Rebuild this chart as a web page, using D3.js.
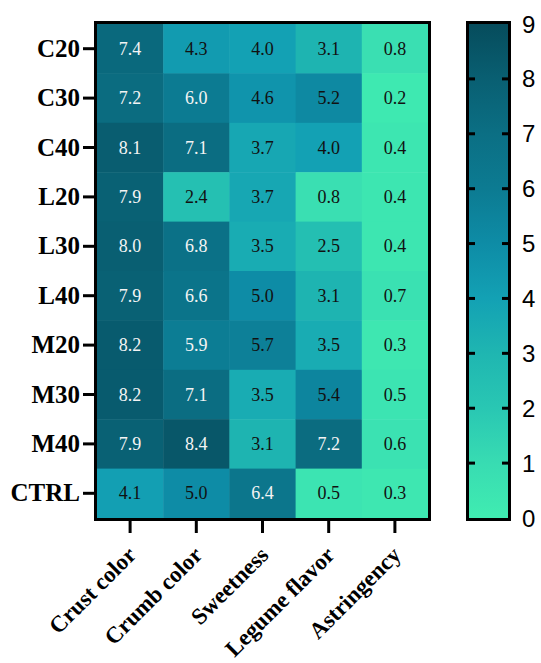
<!DOCTYPE html>
<html>
<head>
<meta charset="utf-8">
<script src="https://cdn.jsdelivr.net/npm/d3@7"></script>
<style>
  html, body { margin: 0; padding: 0; background: #fff; }
  svg { display: block; }
</style>
</head>
<body>
<svg id="chart" width="541" height="663"></svg>
<script>
// Sensory attributes (columns) and samples (rows)
const attributes = ["Crust color", "Crumb color", "Sweetness", "Legume flavor", "Astringency"];
const samples = ["C20", "C30", "C40", "L20", "L30", "L40", "M20", "M30", "M40", "CTRL"];

// Mean scores per attribute, listed in sample order
const crustColor   = [7.4, 7.2, 8.1, 7.9, 8.0, 7.9, 8.2, 8.2, 7.9, 4.1];
const crumbColor   = [4.3, 6.0, 7.1, 2.4, 6.8, 6.6, 5.9, 7.1, 8.4, 5.0];
const sweetness    = [4.0, 4.6, 3.7, 3.7, 3.5, 5.0, 5.7, 3.5, 3.1, 6.4];
const legumeFlavor = [3.1, 5.2, 4.0, 0.8, 2.5, 3.1, 3.5, 5.4, 7.2, 0.5];
const astringency  = [0.8, 0.2, 0.4, 0.4, 0.4, 0.7, 0.3, 0.5, 0.6, 0.3];

const colorbarTicks = [0, 1, 2, 3, 4, 5, 6, 7, 8, 9];

const columns = [crustColor, crumbColor, sweetness, legumeFlavor, astringency];
const cells = [];
columns.forEach((col, ci) => {
  col.forEach((v, ri) => cells.push({ attr: attributes[ci], sample: samples[ri], value: v }));
});

const svg = d3.select("#chart");
const serif = "'Liberation Serif', 'Times New Roman', serif";

// Heatmap geometry
const plotLeft = 97, plotRight = 428, plotTop = 24, plotBottom = 518;

const x = d3.scaleBand().domain(attributes).range([plotLeft, plotRight]).padding(0);
const y = d3.scaleBand().domain(samples).range([plotTop, plotBottom]).padding(0);

// Sequential palette: light mint green -> deep teal
const color = d3.scaleLinear()
  .domain([0, 1, 2, 3, 4, 5, 6, 7, 8, 9])
  .range(["#40ecb1", "#38dcb2", "#29c7b3", "#1fb6b1", "#13a1b4", "#0e8ca6", "#0c7b92", "#0b6f84", "#095f72", "#064c5c"])
  .clamp(true);

// Cells
svg.append("g").selectAll("rect")
  .data(cells)
  .join("rect")
  .attr("x", d => x(d.attr))
  .attr("y", d => y(d.sample))
  .attr("width", x.bandwidth() + 0.5)
  .attr("height", y.bandwidth() + 0.5)
  .attr("fill", d => color(d.value));

// Cell value labels
svg.append("g").selectAll("text")
  .data(cells)
  .join("text")
  .attr("x", d => x(d.attr) + x.bandwidth() / 2)
  .attr("y", d => y(d.sample) + y.bandwidth() / 2)
  .attr("text-anchor", "middle")
  .attr("dominant-baseline", "central")
  .style("font-family", serif)
  .style("font-size", "18px")
  .attr("fill", d => d.value >= 5.8 ? "#f4f4f4" : "#111111")
  .text(d => d.value.toFixed(1));

// Frame
svg.append("rect")
  .attr("x", plotLeft - 1.5).attr("y", plotTop - 1.5)
  .attr("width", plotRight - plotLeft + 3).attr("height", plotBottom - plotTop + 3)
  .attr("fill", "none").attr("stroke", "#000").attr("stroke-width", 3);

// Y axis
const yAxis = svg.append("g")
  .attr("transform", `translate(${plotLeft - 3},0)`)
  .call(d3.axisLeft(y).tickSize(11).tickPadding(3));
yAxis.select(".domain").remove();
yAxis.selectAll(".tick line").attr("stroke", "#000").attr("stroke-width", 3);
yAxis.selectAll(".tick text")
  .attr("fill", "#000")
  .style("font-family", serif)
  .style("font-weight", "bold")
  .style("font-size", "25px");

// X axis
const xAxis = svg.append("g")
  .attr("transform", `translate(0,${plotBottom + 3})`)
  .call(d3.axisBottom(x).tickSize(12).tickPadding(4));
xAxis.select(".domain").remove();
xAxis.selectAll(".tick line").attr("stroke", "#000").attr("stroke-width", 3);
xAxis.selectAll(".tick text")
  .attr("fill", "#000")
  .style("font-family", serif)
  .style("font-weight", "bold")
  .style("font-size", "23px")
  .attr("text-anchor", "end")
  .attr("dy", "0")
  .attr("transform", "translate(-4,24) rotate(-45)");

// Colour bar
const cbLeft = 469, cbRight = 508;
const cy = d3.scaleLinear().domain([0, 9]).range([plotBottom, plotTop]);

const defs = svg.append("defs");
const grad = defs.append("linearGradient")
  .attr("id", "cbGrad")
  .attr("x1", 0).attr("y1", 1).attr("x2", 0).attr("y2", 0);
color.domain().forEach(v => {
  grad.append("stop").attr("offset", v / 9).attr("stop-color", color(v));
});

svg.append("rect")
  .attr("x", cbLeft).attr("y", plotTop)
  .attr("width", cbRight - cbLeft).attr("height", plotBottom - plotTop)
  .attr("fill", "url(#cbGrad)");

// Inner tick marks on both sides of the colour bar
const inner = colorbarTicks.filter(v => v > 0 && v < 9);
svg.append("g").selectAll("line")
  .data(inner).join("line")
  .attr("x1", cbLeft).attr("x2", cbLeft + 6)
  .attr("y1", d => cy(d)).attr("y2", d => cy(d))
  .attr("stroke", "#000").attr("stroke-width", 3);
svg.append("g").selectAll("line")
  .data(inner).join("line")
  .attr("x1", cbRight - 6).attr("x2", cbRight)
  .attr("y1", d => cy(d)).attr("y2", d => cy(d))
  .attr("stroke", "#000").attr("stroke-width", 3);

svg.append("rect")
  .attr("x", cbLeft - 1.5).attr("y", plotTop - 1.5)
  .attr("width", cbRight - cbLeft + 3).attr("height", plotBottom - plotTop + 3)
  .attr("fill", "none").attr("stroke", "#000").attr("stroke-width", 3);

svg.append("g").selectAll("text")
  .data(colorbarTicks).join("text")
  .attr("x", cbRight + 14)
  .attr("y", d => cy(d))
  .attr("dominant-baseline", "central")
  .style("font-family", "'Liberation Sans', Arial, sans-serif")
  .style("font-size", "24px")
  .attr("fill", "#000")
  .text(d => d);
</script>
</body>
</html>
